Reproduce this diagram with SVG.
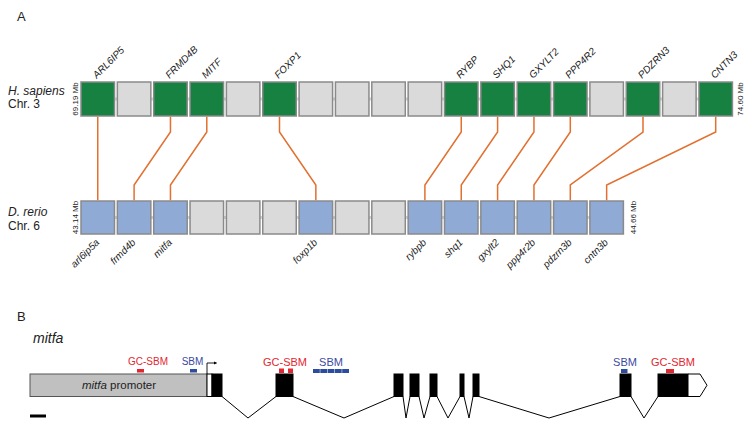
<svg xmlns="http://www.w3.org/2000/svg" width="755" height="433" viewBox="0 0 755 433">
<style>
text{font-family:"Liberation Sans",Arial,sans-serif;fill:#222}
.it{font-style:italic}
.hdr{font-size:13px}
.sp{font-size:12px}
.mb{font-size:8px}
.gl{font-size:10px;font-style:italic}
.bx{stroke:#8a8a8a;stroke-width:1.5}
.g{fill:#168141}
.n{fill:#dadada}
.b{fill:#8eaad5}
.con{fill:none;stroke:#e2702f;stroke-width:1.5}
.ex{fill:#000;stroke:#000;stroke-width:1}
.intr{fill:none;stroke:#000;stroke-width:1}
.red{fill:#e32630}
.blu{fill:#2b4c9f}
.rt{fill:#e32630}
.bt{fill:#3b4a9f}
</style>
<defs>
<marker id="ah" viewBox="0 0 6 6" refX="5" refY="3" markerWidth="4" markerHeight="4" orient="auto"><path d="M0,0 L6,3 L0,6 z" fill="#000"/></marker>
</defs>
<text x="17" y="20.5" class="hdr">A</text>
<text x="17" y="320.5" class="hdr">B</text>

<g id="label-human">
<text x="8" y="95" class="sp it">H. sapiens</text>
<text x="8" y="108" class="sp">Chr. 3</text>
<text transform="translate(78,99) rotate(-90)" text-anchor="middle" class="mb">69.19 Mb</text>
<text transform="translate(743,99) rotate(-90)" text-anchor="middle" class="mb">74.60 Mb</text>
</g>
<g id="label-zebrafish">
<text x="8" y="216" class="sp it">D. rerio</text>
<text x="8" y="230" class="sp">Chr. 6</text>
<text transform="translate(78,217.5) rotate(-90)" text-anchor="middle" class="mb">43.14 Mb</text>
<text transform="translate(636,217.5) rotate(-90)" text-anchor="middle" class="mb">44.66 Mb</text>
</g>

<g id="backbones">
<line x1="81" y1="99" x2="732" y2="99" stroke="#d2d2d2" stroke-width="3"/>
<line x1="81" y1="217.5" x2="623" y2="217.5" stroke="#d2d2d2" stroke-width="3"/>
</g>

<g id="human-row">
<rect id="h0" x="81" y="82" width="33.5" height="34" class="bx g"/>
<rect id="h1" x="117.35" y="82" width="33.5" height="34" class="bx n"/>
<rect id="h2" x="153.7" y="82" width="33.5" height="34" class="bx g"/>
<rect id="h3" x="190.05" y="82" width="33.5" height="34" class="bx g"/>
<rect id="h4" x="226.4" y="82" width="33.5" height="34" class="bx n"/>
<rect id="h5" x="262.75" y="82" width="33.5" height="34" class="bx g"/>
<rect id="h6" x="299.1" y="82" width="33.5" height="34" class="bx n"/>
<rect id="h7" x="335.45" y="82" width="33.5" height="34" class="bx n"/>
<rect id="h8" x="371.8" y="82" width="33.5" height="34" class="bx n"/>
<rect id="h9" x="408.15" y="82" width="33.5" height="34" class="bx n"/>
<rect id="h10" x="444.5" y="82" width="33.5" height="34" class="bx g"/>
<rect id="h11" x="480.85" y="82" width="33.5" height="34" class="bx g"/>
<rect id="h12" x="517.2" y="82" width="33.5" height="34" class="bx g"/>
<rect id="h13" x="553.55" y="82" width="33.5" height="34" class="bx g"/>
<rect id="h14" x="589.9" y="82" width="33.5" height="34" class="bx n"/>
<rect id="h15" x="626.25" y="82" width="33.5" height="34" class="bx g"/>
<rect id="h16" x="662.6" y="82" width="33.5" height="34" class="bx n"/>
<rect id="h17" x="698.95" y="82" width="33.5" height="34" class="bx g"/>
</g>
<g id="human-labels">
<text transform="translate(96.75,79) rotate(-45)" class="gl">ARL6IP5</text>
<text transform="translate(169.45,79) rotate(-45)" class="gl">FRMD4B</text>
<text transform="translate(205.8,79) rotate(-45)" class="gl">MITF</text>
<text transform="translate(278.5,79) rotate(-45)" class="gl">FOXP1</text>
<text transform="translate(460.25,79) rotate(-45)" class="gl">RYBP</text>
<text transform="translate(496.6,79) rotate(-45)" class="gl">SHQ1</text>
<text transform="translate(532.95,79) rotate(-45)" class="gl">GXYLT2</text>
<text transform="translate(569.3,79) rotate(-45)" class="gl">PPP4R2</text>
<text transform="translate(642,79) rotate(-45)" class="gl">PDZRN3</text>
<text transform="translate(714.7,79) rotate(-45)" class="gl">CNTN3</text>
</g>

<g id="zebrafish-row">
<rect id="z0" x="81" y="201" width="33.5" height="33" class="bx b"/>
<rect id="z1" x="117.35" y="201" width="33.5" height="33" class="bx b"/>
<rect id="z2" x="153.7" y="201" width="33.5" height="33" class="bx b"/>
<rect id="z3" x="190.05" y="201" width="33.5" height="33" class="bx n"/>
<rect id="z4" x="226.4" y="201" width="33.5" height="33" class="bx n"/>
<rect id="z5" x="262.75" y="201" width="33.5" height="33" class="bx n"/>
<rect id="z6" x="299.1" y="201" width="33.5" height="33" class="bx b"/>
<rect id="z7" x="335.45" y="201" width="33.5" height="33" class="bx n"/>
<rect id="z8" x="371.8" y="201" width="33.5" height="33" class="bx n"/>
<rect id="z9" x="408.15" y="201" width="33.5" height="33" class="bx b"/>
<rect id="z10" x="444.5" y="201" width="33.5" height="33" class="bx b"/>
<rect id="z11" x="480.85" y="201" width="33.5" height="33" class="bx b"/>
<rect id="z12" x="517.2" y="201" width="33.5" height="33" class="bx b"/>
<rect id="z13" x="553.55" y="201" width="33.5" height="33" class="bx b"/>
<rect id="z14" x="589.9" y="201" width="33.5" height="33" class="bx b"/>
</g>
<g id="zebrafish-labels">
<text transform="translate(100,243) rotate(-45)" text-anchor="end" class="gl">arl6ip5a</text>
<text transform="translate(136.3,243) rotate(-45)" text-anchor="end" class="gl">frmd4b</text>
<text transform="translate(172.6,243) rotate(-45)" text-anchor="end" class="gl">mitfa</text>
<text transform="translate(318,243) rotate(-45)" text-anchor="end" class="gl">foxp1b</text>
<text transform="translate(427,243) rotate(-45)" text-anchor="end" class="gl">rybpb</text>
<text transform="translate(463.4,243) rotate(-45)" text-anchor="end" class="gl">shq1</text>
<text transform="translate(499.7,243) rotate(-45)" text-anchor="end" class="gl">gxylt2</text>
<text transform="translate(536,243) rotate(-45)" text-anchor="end" class="gl">ppp4r2b</text>
<text transform="translate(572.4,243) rotate(-45)" text-anchor="end" class="gl">pdzrn3b</text>
<text transform="translate(608.7,243) rotate(-45)" text-anchor="end" class="gl">cntn3b</text>
</g>

<g id="connectors">
<path class="con" d="M97.75,116.8 V200.2"/>
<path class="con" d="M170.45,116.8 V132 L134.1,185 V200.2"/>
<path class="con" d="M206.8,116.8 V132 L170.45,185 V200.2"/>
<path class="con" d="M279.5,116.8 V132 L315.85,185 V200.2"/>
<path class="con" d="M461.25,116.8 V132 L424.9,185 V200.2"/>
<path class="con" d="M497.6,116.8 V132 L461.25,185 V200.2"/>
<path class="con" d="M533.95,116.8 V132 L497.6,185 V200.2"/>
<path class="con" d="M570.3,116.8 V132 L533.95,185 V200.2"/>
<path class="con" d="M643,116.8 V132 L570.3,185 V200.2"/>
<path class="con" d="M715.7,116.8 V132 L606.65,185 V200.2"/>
</g>

<text x="33" y="343" class="it" style="font-size:14px">mitfa</text>

<g id="promoter">
<rect x="30" y="374" width="177" height="22.5" fill="#c0c0c0" stroke="#555" stroke-width="1"/>
<rect x="207" y="374" width="5" height="22.5" fill="#fff" stroke="#000" stroke-width="1"/>
<text x="119" y="389" text-anchor="middle" style="font-size:11.5px"><tspan class="it">mitfa</tspan> promoter</text>
<path d="M207,374 V363 H216.5" fill="none" stroke="#000" stroke-width="0.9" marker-end="url(#ah)"/>
</g>

<g id="exons">
<rect x="212" y="374" width="10" height="22.5" class="ex"/>
<rect x="276" y="374" width="17" height="22.5" class="ex"/>
<rect x="394" y="374" width="9" height="22.5" class="ex"/>
<rect x="410" y="374" width="9" height="22.5" class="ex"/>
<rect x="430" y="374" width="7" height="22.5" class="ex"/>
<rect x="460" y="374" width="4" height="22.5" class="ex"/>
<rect x="473" y="374" width="6" height="22.5" class="ex"/>
<rect x="620" y="374" width="11" height="22.5" class="ex"/>
<rect x="658" y="374" width="30" height="22.5" class="ex"/>
<path d="M688,374 H700 L707,385.25 L700,396.5 H688 Z" fill="#fff" stroke="#000" stroke-width="1"/>
</g>

<g id="introns">
<polyline class="intr" points="222,396.5 248,418 276,396.5"/>
<polyline class="intr" points="293,396.5 344,418 394,396.5"/>
<polyline class="intr" points="403,396.5 406,418 410,396.5"/>
<polyline class="intr" points="419,396.5 424,418 430,396.5"/>
<polyline class="intr" points="437,396.5 448,418 460,396.5"/>
<polyline class="intr" points="464,396.5 469,418 473,396.5"/>
<polyline class="intr" points="479,396.5 549,418 620,396.5"/>
<polyline class="intr" points="631,396.5 644,418 658,396.5"/>
</g>

<g id="motifs">
<text x="148" y="365" text-anchor="middle" class="rt" style="font-size:10px">GC-SBM</text>
<rect x="137" y="369" width="7" height="3.5" class="red"/>
<text x="192.5" y="365" text-anchor="middle" class="bt" style="font-size:10px">SBM</text>
<rect x="190" y="369" width="7" height="3.5" class="blu"/>
<text x="285" y="366" text-anchor="middle" class="rt" style="font-size:11px">GC-SBM</text>
<rect x="279" y="368.5" width="5" height="4.5" class="red"/>
<rect x="288" y="368.5" width="5" height="4.5" class="red"/>
<text x="331" y="366" text-anchor="middle" class="bt" style="font-size:11px">SBM</text>
<rect x="313" y="369" width="6.8" height="4" class="blu"/>
<rect x="320.3" y="369" width="6.8" height="4" class="blu"/>
<rect x="327.6" y="369" width="6.8" height="4" class="blu"/>
<rect x="334.9" y="369" width="6.8" height="4" class="blu"/>
<rect x="342.2" y="369" width="6.8" height="4" class="blu"/>
<text x="625" y="366" text-anchor="middle" class="bt" style="font-size:11px">SBM</text>
<rect x="621" y="369" width="6.5" height="4" class="blu"/>
<text x="673" y="366" text-anchor="middle" class="rt" style="font-size:11px">GC-SBM</text>
<rect x="666" y="369" width="8" height="4" class="red"/>
</g>

<rect id="scale-bar" x="30" y="414.5" width="16" height="3" fill="#000"/>
</svg>
